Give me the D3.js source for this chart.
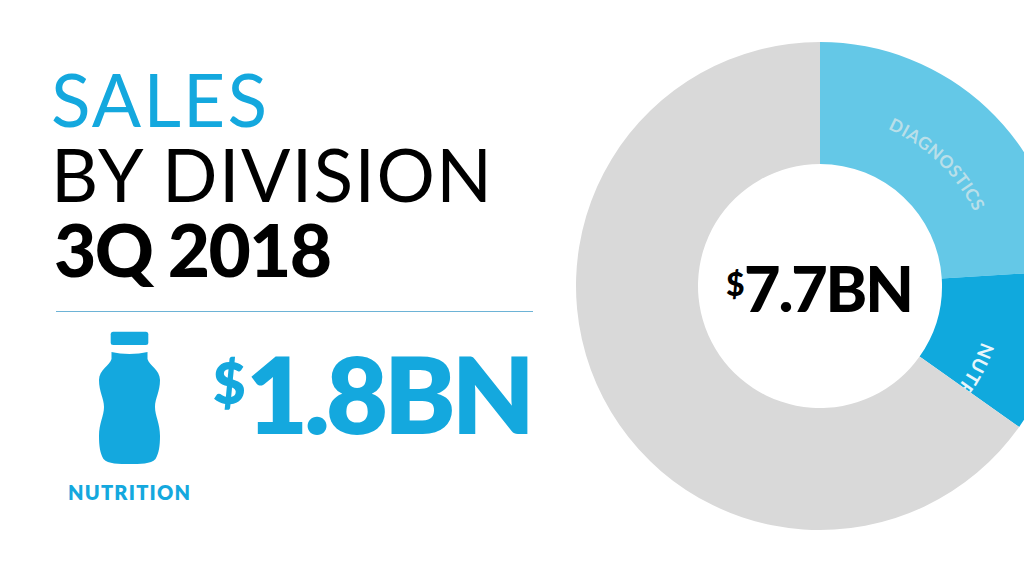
<!DOCTYPE html>
<html><head><meta charset="utf-8">
<script src="https://cdn.jsdelivr.net/npm/d3@7"></script>
<style>html,body{margin:0;padding:0;background:#fff;overflow:hidden}svg{display:block}text{font-family:Lato,"Open Sans",sans-serif}</style>
</head><body>
<svg id="c" width="1024" height="576"></svg>
<script>
const categories = ["DIAGNOSTICS", "NUTRITION", "OTHER"];
const seriesValues = [1.85, 0.83, 5.02];
const sliceColors = ["#64c8e7", "#10a9dd", "#d9d9d9"];
const labelStartFraction = [0.27, 0.58];
const titleLines = ["SALES", "BY DIVISION", "3Q 2018"];
const totalLabel = "7.7BN";
const nutritionLabel = "1.8BN";

const blue = "#14a8de";
const svg = d3.select("#c");
const cx = 820, cy = 286, rOuter = 244, rInner = 122, rLabel = 171;

const pie = d3.pie().sort(null).value(d => d)(seriesValues);
const arc = d3.arc().innerRadius(rInner).outerRadius(rOuter);
const g = svg.append("g").attr("transform", `translate(${cx},${cy})`);
const defs = svg.append("defs");

g.selectAll("path.slice").data(pie).join("path")
  .attr("class", "slice").attr("d", arc).attr("fill", (d, i) => sliceColors[i]);

// curved slice labels, clipped to their slices
pie.slice(0, 2).forEach((d, i) => {
  const a0 = d.startAngle + (d.endAngle - d.startAngle) * labelStartFraction[i];
  const a1 = a0 + Math.PI * 0.9;
  const id = "lab" + i;
  const p = d3.path();
  p.arc(0, 0, rLabel, a0 - Math.PI / 2, a1 - Math.PI / 2);
  defs.append("path").attr("id", id).attr("d", p.toString());
  defs.append("clipPath").attr("id", "clip" + i).append("path").attr("d", arc(d));
  const lg = g.append("g").attr("clip-path", `url(#clip${i})`);
  lg.append("text")
    .attr("font-size", i === 0 ? 17.5 : 19).attr("font-weight", 700)
    .attr("letter-spacing", i === 0 ? 0.5 : 0.8)
    .attr("fill", i === 0 ? "#b9dfe9" : "#e8f6fb")
    .append("textPath").attr("href", "#" + id).text(categories[i]);
});

const big = (x, y, size, dollarSize, dollarDy, dollarX, label, color, weight, len) => {
  svg.append("text").attr("x", dollarX).attr("y", y - dollarDy).attr("font-size", dollarSize)
    .attr("font-weight", weight).attr("fill", color).text("$");
  svg.append("text").attr("x", x).attr("y", y).attr("font-size", size)
    .attr("font-weight", weight).attr("fill", color)
    .attr("textLength", len).attr("lengthAdjust", "spacing").text(label);
};
big(744, 312, 63, 32, 16, 726, totalLabel, "#000", 900, 170);

// title block
const sizes = [73, 73, 73], weights = [400, 400, 900], fills = [blue, "#000", "#000"];
const baselines = [127, 202, 277], lefts = [51, 51, 54], widths = [216, 441, 278];
titleLines.forEach((t, i) => {
  svg.append("text").attr("x", lefts[i]).attr("y", baselines[i])
    .attr("font-size", sizes[i]).attr("font-weight", weights[i]).attr("fill", fills[i])
    .attr("textLength", widths[i]).attr("lengthAdjust", "spacing").text(t);
});

svg.append("line").attr("x1", 56).attr("x2", 533).attr("y1", 311.5).attr("y2", 311.5)
  .attr("stroke", "#6db3d6").attr("stroke-width", 1);

// bottle icon
svg.append("rect").attr("x", 110.7).attr("y", 331.7).attr("width", 37.6).attr("height", 13.3).attr("rx", 2.5).attr("fill", blue);
svg.append("path").attr("fill", blue).attr("d",
  "M111.5 352 C122 354.5 137 354.5 147.5 352 L147.5 359 C149 365 160 370 160 380 C160 392 155 398 155 407 C155 416 160 423 160 436 C160 446 159 453 155.5 459 C151 464 140 464 129.5 464 C119 464 108 464 103.5 459 C100 453 99 446 99 436 C99 423 104 416 104 407 C104 398 99 392 99 380 C99 370 110 365 111.5 359 Z");

big(246, 434, 107, 56, 30, 213, nutritionLabel, blue, 800, 289);

svg.append("text").attr("x", 68).attr("y", 500).attr("font-size", 20).attr("font-weight", 800)
  .attr("fill", blue).attr("textLength", 122).attr("lengthAdjust", "spacing").text(categories[1]);
</script>
</body></html>
